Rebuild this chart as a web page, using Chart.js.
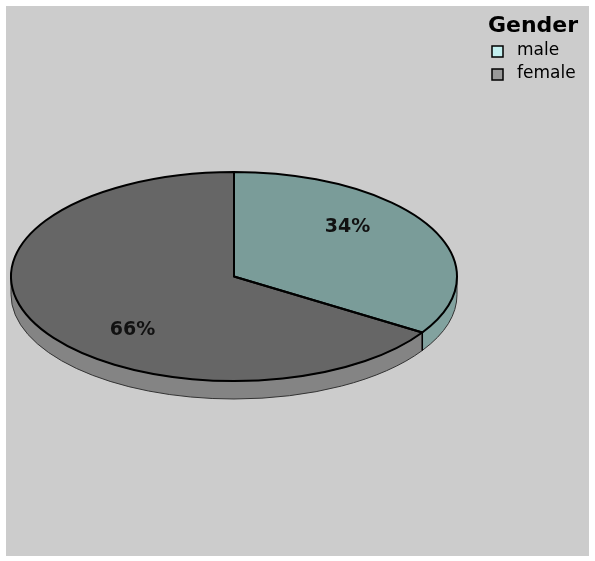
<!DOCTYPE html>
<html>
<head>
<meta charset="utf-8">
<title>Gender</title>
<script src="https://cdn.jsdelivr.net/npm/chart.js@4.4.1/dist/chart.umd.min.js"></script>
<style>
  html, body { margin: 0; padding: 0; background: #ffffff; }
  canvas { display: block; }
</style>
</head>
<body>
<canvas id="genderChart" width="595" height="561"></canvas>
<script>
// Data
const genderLabels = ['male', 'female'];
const genderShares = [34, 66];
const legendTitle = 'Gender';

// Colours
const topColors = ['#7a9c99', '#666666'];
const sideColors = ['#82a29f', '#848484'];
const legendColors = ['#c4f0f0', '#999999'];

// Tilt of the pie (vertical squash) and thickness of the rim
const tilt = 0.4686;
const depth = 18;

function tiltAround(ctx, x, y) {
    ctx.translate(x, y);
    ctx.scale(1, tilt);
    ctx.translate(-x, -y);
}

const pie3d = {
    id: 'pie3d',
    beforeDraw(chart) {
        const ctx = chart.ctx;
        ctx.save();
        ctx.fillStyle = '#cccccc';
        ctx.fillRect(6, 6, 583, 550);
        ctx.restore();
    },
    beforeDatasetsDraw(chart) {
        const ctx = chart.ctx;
        const arcs = chart.getDatasetMeta(0).data;
        // rim of the front half
        arcs.forEach((arc, i) => {
            const a = Math.max(arc.startAngle, 0);
            const b = Math.min(arc.endAngle, Math.PI);
            if (a >= b) return;
            const r = arc.outerRadius;
            ctx.save();
            ctx.beginPath();
            ctx.ellipse(arc.x, arc.y, r, r * tilt, 0, a, b);
            ctx.ellipse(arc.x, arc.y + depth, r, r * tilt, 0, b, a, true);
            ctx.closePath();
            ctx.fillStyle = sideColors[i];
            ctx.fill();
            ctx.lineWidth = 1;
            ctx.strokeStyle = '#333333';
            ctx.stroke();
            ctx.restore();
        });
        // boundary line between slices on the rim
        arcs.forEach(arc => {
            const t = arc.endAngle;
            if (t <= 0 || t >= Math.PI) return;
            const r = arc.outerRadius;
            const px = arc.x + r * Math.cos(t);
            const py = arc.y + r * tilt * Math.sin(t);
            ctx.save();
            ctx.beginPath();
            ctx.moveTo(px, py);
            ctx.lineTo(px, py + depth);
            ctx.lineWidth = 1.5;
            ctx.strokeStyle = '#000000';
            ctx.stroke();
            ctx.restore();
        });
        const first = arcs[0];
        ctx.save();
        tiltAround(ctx, first.x, first.y);
    },
    afterDatasetsDraw(chart) {
        const ctx = chart.ctx;
        ctx.restore();
        const arcs = chart.getDatasetMeta(0).data;
        const total = genderShares.reduce((a, b) => a + b, 0);

        // outlines, built in tilted space and stroked untilted
        arcs.forEach(arc => {
            ctx.save();
            tiltAround(ctx, arc.x, arc.y);
            ctx.beginPath();
            ctx.moveTo(arc.x, arc.y);
            ctx.arc(arc.x, arc.y, arc.outerRadius, arc.startAngle, arc.endAngle);
            ctx.closePath();
            ctx.restore();
            ctx.save();
            ctx.lineWidth = 2;
            ctx.lineJoin = 'round';
            ctx.strokeStyle = '#000000';
            ctx.stroke();
            ctx.restore();
        });

        // percentage labels
        ctx.save();
        ctx.font = 'bold 19px "DejaVu Sans"';
        ctx.fillStyle = '#111111';
        ctx.textAlign = 'center';
        ctx.textBaseline = 'middle';
        arcs.forEach((arc, i) => {
            const mid = (arc.startAngle + arc.endAngle) / 2;
            const r = arc.outerRadius;
            const x = arc.x + 6 + r * 0.55 * Math.cos(mid);
            const y = arc.y + 2 + r * tilt * 1.02 * Math.sin(mid);
            ctx.fillText(Math.round(genderShares[i] / total * 100) + '%', x, y);
        });
        ctx.restore();
    },
    afterDraw(chart) {
        const ctx = chart.ctx;
        ctx.save();
        ctx.fillStyle = '#000000';
        ctx.font = 'bold 22px "DejaVu Sans"';
        ctx.textAlign = 'center';
        ctx.textBaseline = 'alphabetic';
        ctx.fillText(legendTitle, 533, 32);

        ctx.font = '17px "DejaVu Sans"';
        ctx.textAlign = 'left';
        ctx.textBaseline = 'middle';
        genderLabels.forEach((label, i) => {
            const y = 46 + i * 23;
            ctx.fillStyle = legendColors[i];
            ctx.fillRect(492, y, 11, 11);
            ctx.lineWidth = 1.5;
            ctx.strokeStyle = '#000000';
            ctx.strokeRect(492, y, 11, 11);
            ctx.fillStyle = '#000000';
            ctx.fillText(label, 517, y + 5);
        });
        ctx.restore();
    }
};

const ctx = document.getElementById('genderChart').getContext('2d');
new Chart(ctx, {
    type: 'pie',
    data: {
        labels: genderLabels,
        datasets: [{
            data: genderShares,
            backgroundColor: topColors,
            borderWidth: 0
        }]
    },
    options: {
        responsive: false,
        animation: false,
        layout: {
            padding: { left: 11, right: 138, top: 53.5, bottom: 61.5 }
        },
        plugins: {
            legend: { display: false },
            tooltip: { enabled: false }
        }
    },
    plugins: [pie3d]
});
</script>
</body>
</html>
